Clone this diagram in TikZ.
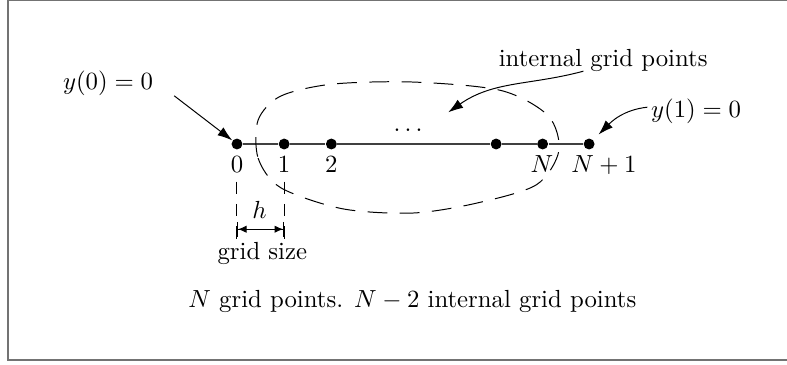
\documentclass[tikz,border=0pt]{standalone}
\usetikzlibrary{positioning,arrows.meta}

\begin{document}
\begin{tikzpicture}[
  gpt/.style    = {circle, fill=black, inner sep=0pt, minimum size=4.4pt},
  idx/.style    = {anchor=base},
  axis/.style   = {thick, black!75},
  arr/.style    = {-{Latex[length=6pt,width=4pt]}},
  bnd/.style    = {dash pattern=on 8pt off 5pt},
  guide/.style  = {dash pattern=on 5pt off 4pt},
  dim/.style    = {{Bar[width=6pt]Latex[length=3.5pt,width=3pt]}-{Latex[length=3.5pt,width=3pt]Bar[width=6pt]}}
]
  \useasboundingbox (-3.365,-3.124) rectangle (7.81,2.045);
  \draw[black!55, line width=0.6pt] (-3.25,-3.07) rectangle (8.3,2.035);

  \foreach \nm/\xx in {p0/0, p1/0.67, p2/1.34, p3/3.68, pN/4.34, pN1/5.0}
    \node[gpt] (\nm) at (\xx,0) {};
  \foreach \aa/\bb in {p0/p1, p1/p2, p2/p3, p3/pN, pN/pN1}
    \draw[axis] (\aa) -- (\bb);

  \node[idx] (l0)  at (0,-0.41)    {$0$};
  \node[idx] (l1)  at (0.67,-0.41) {$1$};
  \node[idx] (l2)  at (1.34,-0.41) {$2$};
  \node[idx] (lN)  at (4.33,-0.41) {$N$};
  \node[idx] (lN1) at (5.21,-0.41) {$N+1$};
  \node[idx] (dts) at (2.43,0.18)  {$\ldots$};

  \draw[bnd] plot[smooth cycle] coordinates {(0.30,0.34) (0.30,-0.20) (0.62,-0.62)
    (1.50,-0.92) (2.50,-0.98) (3.40,-0.84) (4.25,-0.58) (4.57,-0.10) (4.42,0.40)
    (3.75,0.76) (2.50,0.88) (1.35,0.85) (0.62,0.68)};

  \node (y0)  at (-1.83,0.86) {$y(0)=0$};
  \node (int) at (5.20,1.19)  {internal grid points};
  \node (y1)  at (6.52,0.47)  {$y(1)=0$};
  \coordinate (inpt) at (3.0,0.45);

  \draw[arr] ([shift={(5pt,-5pt)}]y0.east) -- (p0);
  \draw[arr] ([shift={(-8pt,-2pt)}]int.base) to[out=195,in=35] (inpt);
  \draw[arr, shorten >=3pt] ([shift={(2pt,1.5pt)}]y1.west) to[out=186,in=45] (pN1);

  \coordinate (d0) at (0,-1.36);
  \coordinate (d1) at (0.67,-1.36);
  \coordinate (ha) at (0,-1.21);
  \coordinate (hb) at (0.67,-1.21);
  \draw[guide] (l0.south) -- (d0);
  \draw[guide] (l1.south) -- (d1);
  \draw[dim] (ha) -- (hb);
  \node (hlbl) at (0.32,-0.94) {$h$};
  \node (gsz)  at (0.36,-1.55) {grid size};

  \node (cap) at (2.49,-2.24) {$N$ grid points. $N-2$ internal grid points};
\end{tikzpicture}
\end{document}
